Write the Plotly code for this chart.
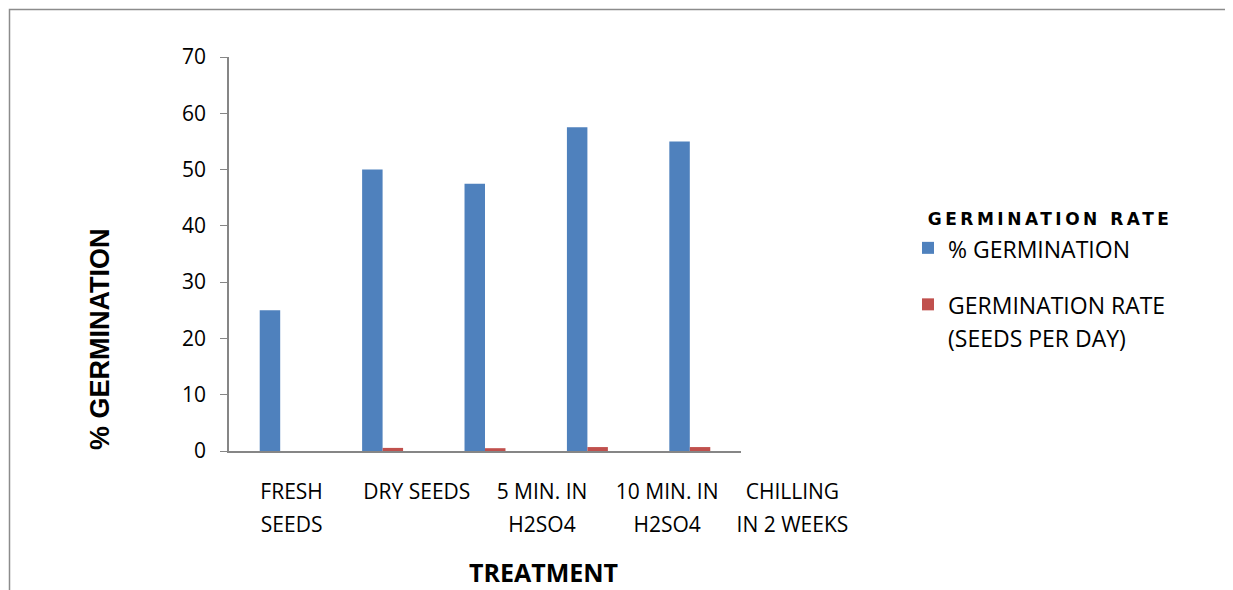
import plotly.graph_objects as go

categories = ["FRESH<br>SEEDS", "DRY SEEDS<br> ", "5 MIN. IN<br>H2SO4", "10 MIN. IN<br>H2SO4", "CHILLING<br>IN 2 WEEKS"]
pct_germination = [25, 50, 47.5, 57.5, 55]
germination_rate = [0.0, 0.55, 0.5, 0.7, 0.7]
y_ticks = [0, 10, 20, 30, 40, 50, 60, 70]

FONT = "Open Sans, sans-serif"

def sized(lbl, size=21):
    return "<br>".join(f"<span style='font-size:{size}px'>{p}</span>" for p in lbl.split("<br>"))

# page body has an 8px margin: work in window coordinates, convert to figure space
OFF = 8
W, H = 1233 - OFF, 590 - OFF
L, R, T, B = 229 - OFF, 855 - OFF, 57 - OFF, 451 - OFF
pw, ph = R - L, B - T
BAR_RIGHT = 741 - OFF  # bars occupy a narrower band than the category labels

def px(xw):
    return (xw - OFF - L) / pw

def py(yw):
    return (B - (yw - OFF)) / ph

fig = go.Figure()
fig.add_trace(go.Bar(x=categories, y=pct_germination, name=sized("% GERMINATION", 23),
                     marker=dict(color="#4F81BD", line=dict(width=0)), legendgroup="a"))
fig.add_trace(go.Bar(x=categories, y=germination_rate, name=sized("GERMINATION RATE<br>(SEEDS PER DAY)", 23),
                     marker=dict(color="#C0504D", line=dict(width=0)), legendgroup="b"))
# carrier for the category labels on the label axis
fig.add_trace(go.Scatter(x=categories, y=[0] * len(categories), xaxis="x2", mode="markers",
                         marker=dict(opacity=0), showlegend=False, hoverinfo="skip"))

fig.update_layout(
    width=W, height=H,
    margin=dict(l=L, r=W - R, t=T, b=H - B, autoexpand=False),
    paper_bgcolor="white", plot_bgcolor="rgba(0,0,0,0)",
    barmode="group", bargap=0.6, bargroupgap=0,
    font=dict(family=FONT, color="black", size=18),
    xaxis=dict(
        domain=[0, (BAR_RIGHT - L) / pw], showticklabels=False,
        showline=True, linecolor="#868686", linewidth=2,
        ticks="", showgrid=False, range=[-0.5, 4.5], automargin=False,
    ),
    xaxis2=dict(
        domain=[0, 1], anchor="y", side="bottom",
        tickmode="array", tickvals=categories, ticktext=[sized(c) for c in categories],
        tickfont=dict(size=25, family=FONT), showline=False, ticks="", showgrid=False,
        zeroline=False, range=[-0.5, 4.5], ticklabelstandoff=22, tickangle=0, automargin=False,
    ),
    yaxis=dict(
        range=[0, 70], tickvals=y_ticks, showline=True, linecolor="#868686", linewidth=1.5,
        ticks="outside", ticklen=7, tickcolor="#868686", tickfont=dict(size=21, family=FONT),
        showgrid=False, zeroline=False, ticklabelstandoff=10, automargin=False,
    ),
    legend=dict(
        x=px(908), y=py(203), xanchor="left", yanchor="top",
        font=dict(size=25, family=FONT), tracegroupgap=21, valign="top",
        title=dict(text="<b>&#160;&#160;&#160;<span style='letter-spacing:3.5px'>GERMINATION RATE</span></b>",
                   font=dict(family="DejaVu Sans", size=17)),
        itemwidth=30,
    ),
    showlegend=True,
    annotations=[
        dict(text="<b>% GERMINATION</b>", x=px(100), y=py(339), xref="paper", yref="paper",
             textangle=-90, showarrow=False, font=dict(size=27, family="Liberation Sans, Arial"),
             xanchor="center", yanchor="middle"),
        dict(text="<b>TREATMENT</b>", x=px(543), y=py(572), xref="paper", yref="paper",
             showarrow=False, font=dict(size=25, family=FONT), borderpad=0,
             xanchor="center", yanchor="middle"),
    ],
    shapes=[
        dict(type="rect", xref="paper", yref="paper",
             x0=px(9.5), x1=px(1232), y0=py(640), y1=py(9.5),
             line=dict(color="#8c8c8c", width=1.5), fillcolor="rgba(0,0,0,0)", layer="below"),
    ],
)

fig.write_html("out.html")
